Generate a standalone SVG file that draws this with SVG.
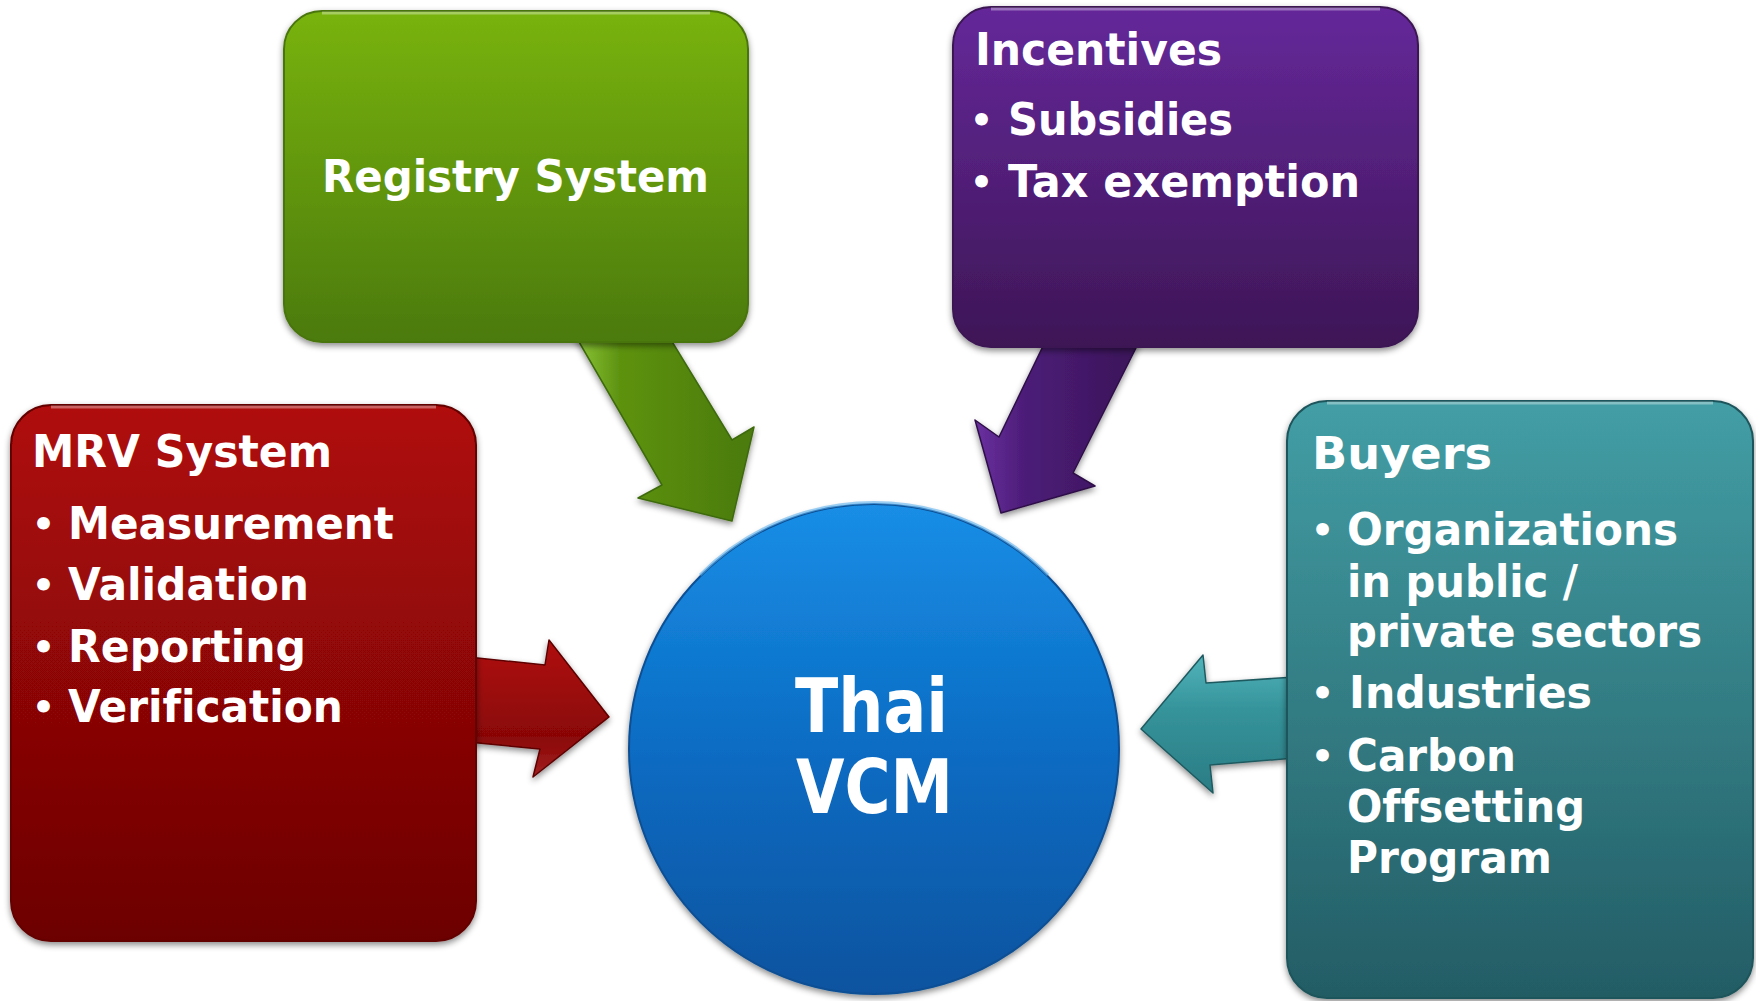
<svg xmlns="http://www.w3.org/2000/svg" width="1756" height="1001" viewBox="0 0 1756 1001">
<defs>
<style>
.t{font-family:"DejaVu Sans","Verdana",sans-serif;font-weight:bold;fill:#ffffff;font-size:44px;font-variant-ligatures:none;font-feature-settings:"liga" 0}
.b{font-size:36px}
.big{font-size:74px}
.box{stroke-width:2}
.arr{stroke-width:1.5;stroke-linejoin:round}
.hl{fill:none;stroke:#ffffff;stroke-opacity:0.35;stroke-width:3}
</style>
<filter id="sh" x="-10%" y="-10%" width="120%" height="125%">
<feDropShadow dx="0" dy="3" stdDeviation="3" flood-color="#000" flood-opacity="0.45"/>
</filter>
<linearGradient id="gG" x1="0" y1="0" x2="0" y2="1"><stop offset="0" stop-color="#78b30b"/><stop offset="1" stop-color="#4b7a10"/></linearGradient>
<linearGradient id="gP" x1="0" y1="0" x2="0" y2="1"><stop offset="0" stop-color="#65289a"/><stop offset="1" stop-color="#3e1656"/></linearGradient>
<linearGradient id="gR" x1="0" y1="0" x2="0" y2="1"><stop offset="0" stop-color="#b00909"/><stop offset="1" stop-color="#6c0404"/></linearGradient>
<linearGradient id="gT" x1="0" y1="0" x2="0" y2="1"><stop offset="0" stop-color="#439ea5"/><stop offset="1" stop-color="#235c64"/></linearGradient>
<linearGradient id="gB" x1="0" y1="0" x2="0" y2="1"><stop offset="0" stop-color="#1a8ee6"/><stop offset="0.5" stop-color="#0a6cc3"/><stop offset="1" stop-color="#08539f"/></linearGradient>
<linearGradient id="aG" x1="0" y1="0" x2="1" y2="0"><stop offset="0" stop-color="#8cc63a"/><stop offset="0.25" stop-color="#5d9210"/><stop offset="1" stop-color="#4a7a0e"/></linearGradient>
<linearGradient id="aP" x1="0" y1="0" x2="1" y2="0"><stop offset="0" stop-color="#6a30a0"/><stop offset="0.3" stop-color="#4c1d78"/><stop offset="1" stop-color="#3a1458"/></linearGradient>
<linearGradient id="aR" x1="0" y1="0" x2="0" y2="1"><stop offset="0" stop-color="#b01010"/><stop offset="0.7" stop-color="#8a0606"/><stop offset="1" stop-color="#a22020"/></linearGradient>
<linearGradient id="aT" x1="0" y1="0" x2="0" y2="1"><stop offset="0" stop-color="#52b4bb"/><stop offset="0.4" stop-color="#35939a"/><stop offset="1" stop-color="#2b7c84"/></linearGradient>
</defs>
<rect width="1756" height="1001" fill="#ffffff"/>

<g id="connectors" filter="url(#sh)">
<polygon class="arr" fill="url(#aG)" stroke="#3e6a0a" points="575,335 668,335 732,440 754,427 732,521 638,498 662,485"/>
<polygon class="arr" fill="url(#aP)" stroke="#2e0f48" points="1046,340 1140,340 1073,473 1095,486 1001,513 975,420 999,437"/>
<polygon class="arr" fill="url(#aR)" stroke="#5e0303" points="468,657 545,665 549,640 609,717 533,777 540,749 468,742"/>
<polygon class="arr" fill="url(#aT)" stroke="#1f5a60" points="1295,677 1206,683 1203,655 1141,729 1213,793 1210,765 1295,758"/>
</g>

<g id="registry">
<rect class="box" x="284" y="11" width="464" height="331" rx="38" fill="url(#gG)" stroke="#4a7410" filter="url(#sh)"/>
<path class="hl" d="M322,13 H710"/>
<text class="t" x="322" y="192" textLength="387" lengthAdjust="spacingAndGlyphs">Registry System</text>
</g>

<g id="incentives">
<rect class="box" x="953" y="7" width="465" height="340" rx="38" fill="url(#gP)" stroke="#3a1452" filter="url(#sh)"/>
<path class="hl" d="M991,9 H1380"/>
<text class="t" x="975" y="65" textLength="247" lengthAdjust="spacingAndGlyphs">Incentives</text>
<text class="t b" x="970" y="133">•</text>
<text class="t" x="1008" y="135" textLength="225" lengthAdjust="spacingAndGlyphs">Subsidies</text>
<text class="t b" x="970" y="195">•</text>
<text class="t" x="1008" y="197" textLength="352" lengthAdjust="spacingAndGlyphs">Tax exemption</text>
</g>

<g id="mrv">
<rect class="box" x="11" y="405" width="465" height="536" rx="40" fill="url(#gR)" stroke="#640404" filter="url(#sh)"/>
<path class="hl" d="M51,407 H436"/>
<text class="t" x="32" y="467" textLength="300" lengthAdjust="spacingAndGlyphs">MRV System</text>
<text class="t b" x="32" y="537">•</text>
<text class="t" x="68" y="539" textLength="326" lengthAdjust="spacingAndGlyphs">Measurement</text>
<text class="t b" x="32" y="598">•</text>
<text class="t" x="68" y="600" textLength="241" lengthAdjust="spacingAndGlyphs">Validation</text>
<text class="t b" x="32" y="660">•</text>
<text class="t" x="68" y="662" textLength="238" lengthAdjust="spacingAndGlyphs">Reporting</text>
<text class="t b" x="32" y="720">•</text>
<text class="t" x="68" y="722" textLength="275" lengthAdjust="spacingAndGlyphs">Verification</text>
</g>

<g id="buyers">
<rect class="box" x="1287" y="401" width="466" height="597" rx="40" fill="url(#gT)" stroke="#1f545b" filter="url(#sh)"/>
<path class="hl" d="M1327,403 H1713"/>
<text class="t" x="1312" y="469" textLength="180" lengthAdjust="spacingAndGlyphs">Buyers</text>
<text class="t b" x="1311" y="543">•</text>
<text class="t" x="1347" y="545" textLength="331" lengthAdjust="spacingAndGlyphs">Organizations</text>
<text class="t" x="1347" y="597" textLength="231" lengthAdjust="spacingAndGlyphs">in public /</text>
<text class="t" x="1347" y="647" textLength="355" lengthAdjust="spacingAndGlyphs">private sectors</text>
<text class="t b" x="1311" y="706">•</text>
<text class="t" x="1349" y="708" textLength="243" lengthAdjust="spacingAndGlyphs">Industries</text>
<text class="t b" x="1311" y="769">•</text>
<text class="t" x="1347" y="771" textLength="169" lengthAdjust="spacingAndGlyphs">Carbon</text>
<text class="t" x="1347" y="822" textLength="238" lengthAdjust="spacingAndGlyphs">Offsetting</text>
<text class="t" x="1347" y="873" textLength="205" lengthAdjust="spacingAndGlyphs">Program</text>
</g>

<g id="thai-vcm">
<circle cx="874" cy="749" r="245" fill="url(#gB)" stroke="#0a4f94" stroke-width="2" filter="url(#sh)"/>
<path d="M700,575 A245,245 0 0 1 1048,575" fill="none" stroke="#5fb4f2" stroke-opacity="0.6" stroke-width="3"/>
<text class="t big" x="795" y="732" textLength="153" lengthAdjust="spacingAndGlyphs">Thai</text>
<text class="t big" x="796" y="813" textLength="157" lengthAdjust="spacingAndGlyphs">VCM</text>
</g>
</svg>
